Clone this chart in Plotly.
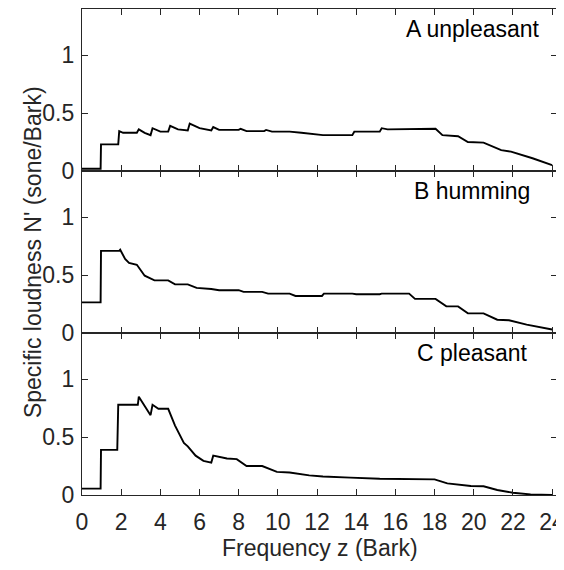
import plotly.graph_objects as go
from plotly.subplots import make_subplots

# specific loudness per panel
z_a = [0, 0.95, 0.97, 1.85, 1.9, 2.1, 2.8, 2.9, 3.2, 3.5, 3.6, 4.0, 4.4, 4.5, 4.9, 5.4,
       5.5, 6.0, 6.6, 6.7, 7.0, 8.0, 8.1, 8.4, 9.3, 9.4, 9.7, 10.6, 11.2, 12.3, 13.8,
       13.9, 15.2, 15.3, 15.6, 16.8, 16.9, 18.05, 18.4, 19.2, 19.7, 20.5, 21.4, 21.9,
       23.0, 24.0]
n_a = [0.02, 0.02, 0.23, 0.23, 0.345, 0.33, 0.33, 0.36, 0.33, 0.31, 0.37, 0.34, 0.34,
       0.39, 0.36, 0.35, 0.41, 0.37, 0.35, 0.38, 0.355, 0.355, 0.365, 0.345, 0.345,
       0.355, 0.34, 0.34, 0.33, 0.31, 0.31, 0.34, 0.34, 0.37, 0.36, 0.36, 0.365, 0.365,
       0.31, 0.30, 0.25, 0.245, 0.18, 0.167, 0.11, 0.05]

z_b = [0, 0.95, 0.97, 1.9, 1.95, 2.2, 2.4, 2.8, 3.2, 3.7, 4.4, 4.75, 5.4, 5.85, 6.6,
       7.0, 8.0, 8.25, 9.2, 9.5, 10.6, 10.9, 12.25, 12.35, 13.8, 14.0, 15.2, 15.3,
       16.7, 17.0, 18.05, 18.6, 19.2, 19.7, 20.5, 21.2, 21.8, 22.7, 24.0]
n_b = [0.265, 0.265, 0.71, 0.71, 0.72, 0.64, 0.605, 0.59, 0.495, 0.455, 0.455, 0.42,
       0.42, 0.39, 0.38, 0.37, 0.37, 0.355, 0.355, 0.34, 0.34, 0.32, 0.32, 0.34, 0.34,
       0.335, 0.335, 0.34, 0.34, 0.295, 0.295, 0.23, 0.23, 0.17, 0.17, 0.115, 0.11,
       0.072, 0.03]

z_c = [0, 0.95, 0.97, 1.8, 1.85, 2.85, 2.9, 3.5, 3.6, 3.9, 4.4, 4.75, 5.2, 5.4, 5.8,
       6.2, 6.6, 6.7, 7.4, 7.9, 8.4, 9.2, 9.95, 10.6, 11.6, 12.3, 13.7, 15.2, 18.0,
       18.65, 19.85, 20.5, 21.2, 22.0, 22.9, 24.0]
n_c = [0.055, 0.055, 0.39, 0.39, 0.78, 0.78, 0.85, 0.69, 0.78, 0.745, 0.745, 0.60,
       0.45, 0.42, 0.34, 0.295, 0.28, 0.34, 0.315, 0.31, 0.25, 0.25, 0.20, 0.195,
       0.17, 0.16, 0.15, 0.14, 0.135, 0.10, 0.078, 0.075, 0.043, 0.02, 0.005, 0.0]

labels = ["A unpleasant", "B humming", "C pleasant"]
label_x = [23.5, 22.95, 22.85]
x_ticks = list(range(0, 25, 2))
y_ticks = [0, 0.5, 1]
y_ticktext = ["0", "0.5", "1"]

ink = "#262626"
font = "Liberation Sans, Arial, sans-serif"

fig = make_subplots(rows=3, cols=1, shared_xaxes=True, vertical_spacing=0)

for i, (z, n) in enumerate([(z_a, n_a), (z_b, n_b), (z_c, n_c)]):
    fig.add_trace(go.Scatter(x=z, y=n, mode="lines",
                             line=dict(color="black", width=1.9),
                             showlegend=False), row=i + 1, col=1)
    fig.add_annotation(text=labels[i], x=label_x[i], xref="x%s" % ("" if i == 0 else i + 1),
                       y=0.877, yref="y%s domain" % ("" if i == 0 else i + 1),
                       xanchor="right", yanchor="middle", showarrow=False,
                       font=dict(size=23, color="black", family=font))

fig.update_xaxes(range=[0, 24.25], tickvals=x_ticks, ticks="inside", ticklen=6,
                 tickcolor=ink, showline=True, linecolor=ink, linewidth=1.3,
                 mirror="ticks", showgrid=False, zeroline=False, automargin=False,
                 ticklabeloverflow="allow", ticklabelstandoff=6,
                 tickfont=dict(size=23, color=ink, family=font))
fig.update_xaxes(showticklabels=False, row=1, col=1)
fig.update_xaxes(showticklabels=False, row=2, col=1)
fig.update_yaxes(range=[0, 1.4], tickvals=y_ticks, ticktext=y_ticktext, ticks="inside",
                 ticklen=6, tickcolor=ink, showline=True, linecolor=ink, linewidth=1.3,
                 mirror="ticks", showgrid=False, zeroline=False, automargin=False,
                 ticklabelstandoff=2,
                 tickfont=dict(size=23, color=ink, family=font))

fig.add_annotation(text="Specific loudness N' (sone/Bark)", xref="paper", yref="paper",
                   x=-0.103, y=0.5, textangle=-90, showarrow=False,
                   xanchor="center", yanchor="middle",
                   font=dict(size=23, color=ink, family=font))
fig.add_annotation(text="Frequency z (Bark)", xref="paper", yref="paper",
                   x=0.5, y=-0.109, showarrow=False, xanchor="center", yanchor="middle",
                   font=dict(size=23, color=ink, family=font))

# page body adds an 8px offset, so the figure is 8px smaller than the window
fig.update_layout(width=556, height=562, margin=dict(l=74, r=7, t=1, b=75),
                  plot_bgcolor="white", paper_bgcolor="white")

fig.write_html("out.html")
